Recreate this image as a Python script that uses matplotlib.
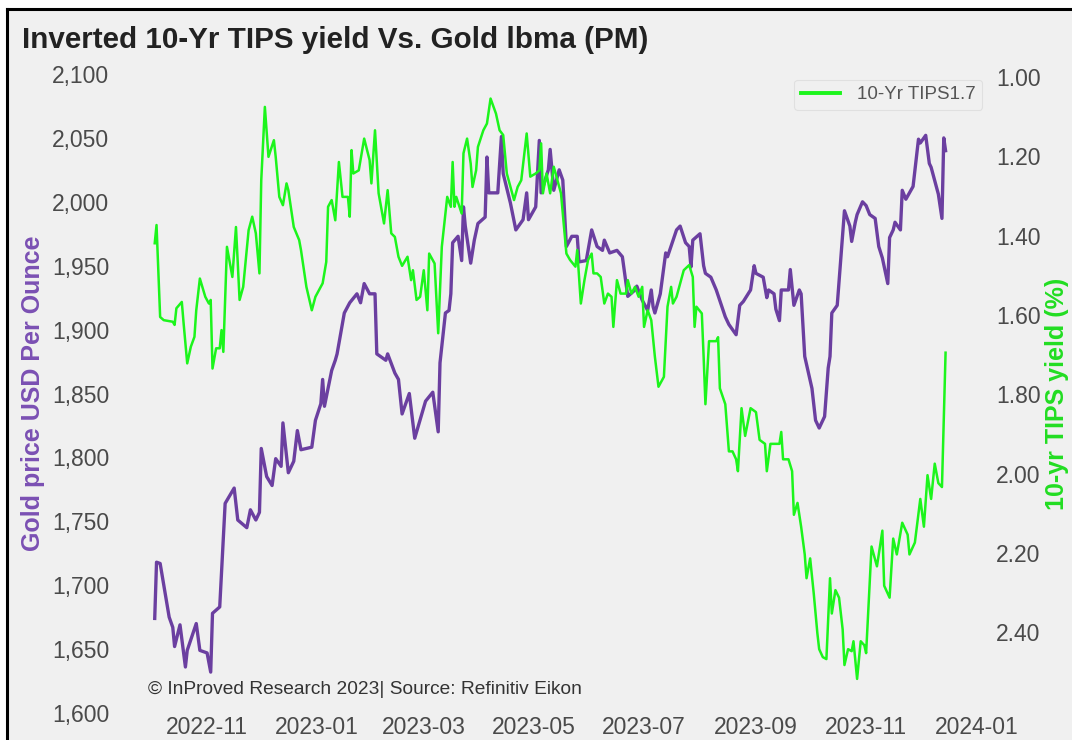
import matplotlib
matplotlib.use("Agg")
import matplotlib.pyplot as plt
import matplotlib.dates as mdates
import matplotlib.ticker as mticker
from matplotlib.patches import Rectangle
import pandas as pd

# ---------------- data ----------------
gold_dates = [
    "2022-10-03", "2022-10-04", "2022-10-06", "2022-10-11", "2022-10-13", "2022-10-14", "2022-10-17",
    "2022-10-20", "2022-10-21", "2022-10-26", "2022-10-28", "2022-11-01", "2022-11-03", "2022-11-04",
    "2022-11-08", "2022-11-11", "2022-11-16", "2022-11-18", "2022-11-23", "2022-11-25", "2022-11-28",
    "2022-11-30", "2022-12-01", "2022-12-04", "2022-12-07", "2022-12-09", "2022-12-12", "2022-12-13",
    "2022-12-16", "2022-12-19", "2022-12-21", "2022-12-23", "2022-12-29", "2022-12-31", "2023-01-03",
    "2023-01-04", "2023-01-05", "2023-01-09", "2023-01-11", "2023-01-12", "2023-01-16", "2023-01-19",
    "2023-01-23", "2023-01-25", "2023-01-27", "2023-01-30", "2023-02-02", "2023-02-03", "2023-02-08",
    "2023-02-09", "2023-02-13", "2023-02-15", "2023-02-17", "2023-02-21", "2023-02-24", "2023-03-02",
    "2023-03-06", "2023-03-09", "2023-03-10", "2023-03-13", "2023-03-15", "2023-03-16", "2023-03-17",
    "2023-03-20", "2023-03-22", "2023-03-23", "2023-03-24", "2023-03-27", "2023-03-29", "2023-03-31",
    "2023-04-04", "2023-04-05", "2023-04-06", "2023-04-11", "2023-04-13", "2023-04-14", "2023-04-18",
    "2023-04-21", "2023-04-25", "2023-04-27", "2023-04-28", "2023-05-02", "2023-05-04", "2023-05-05",
    "2023-05-09", "2023-05-10", "2023-05-12", "2023-05-15", "2023-05-17", "2023-05-19", "2023-05-22",
    "2023-05-25", "2023-05-26", "2023-05-30", "2023-06-02", "2023-06-05", "2023-06-08", "2023-06-09",
    "2023-06-12", "2023-06-16", "2023-06-19", "2023-06-22", "2023-06-26", "2023-06-27", "2023-06-30",
    "2023-07-03", "2023-07-05", "2023-07-06", "2023-07-07", "2023-07-10", "2023-07-13", "2023-07-14",
    "2023-07-19", "2023-07-21", "2023-07-24", "2023-07-26", "2023-07-27", "2023-07-28", "2023-08-01",
    "2023-08-03", "2023-08-04", "2023-08-07", "2023-08-10", "2023-08-15", "2023-08-17", "2023-08-21",
    "2023-08-23", "2023-08-25", "2023-08-29", "2023-08-31", "2023-09-01", "2023-09-05", "2023-09-07",
    "2023-09-08", "2023-09-11", "2023-09-12", "2023-09-14", "2023-09-15", "2023-09-19", "2023-09-20",
    "2023-09-22", "2023-09-25", "2023-09-26", "2023-09-28", "2023-10-02", "2023-10-04", "2023-10-06",
    "2023-10-09", "2023-10-11", "2023-10-12", "2023-10-13", "2023-10-16", "2023-10-18", "2023-10-20",
    "2023-10-23", "2023-10-24", "2023-10-26", "2023-10-27", "2023-10-30", "2023-11-01", "2023-11-03",
    "2023-11-06", "2023-11-08", "2023-11-10", "2023-11-13", "2023-11-14", "2023-11-16", "2023-11-17",
    "2023-11-20", "2023-11-21", "2023-11-23", "2023-11-27", "2023-11-30", "2023-12-01", "2023-12-04",
    "2023-12-06", "2023-12-07", "2023-12-11", "2023-12-13", "2023-12-14", "2023-12-15",
]
gold_price = [
    1674, 1718, 1717, 1675, 1667, 1652, 1669,
    1636, 1649, 1670, 1649, 1647, 1632, 1678,
    1683, 1764, 1776, 1751, 1745, 1759, 1751,
    1757, 1807, 1785, 1778, 1799, 1793, 1827,
    1788, 1797, 1821, 1806, 1808, 1829, 1842,
    1861, 1840, 1868, 1876, 1881, 1913, 1921,
    1928, 1921, 1936, 1928, 1928, 1881, 1876,
    1881, 1866, 1861, 1834, 1850, 1815, 1844,
    1851, 1820, 1874, 1913, 1915, 1928, 1968,
    1973, 1954, 1996, 1981, 1952, 1970, 1983,
    1988, 2035, 2007, 2007, 2051, 2022, 1999,
    1978, 1986, 2007, 1986, 1996, 2048, 2007,
    2025, 2041, 2009, 2025, 2017, 1965, 1973,
    1973, 1953, 1954, 1978, 1965, 1962, 1970,
    1960, 1962, 1957, 1926, 1931, 1934, 1923,
    1915, 1931, 1918, 1913, 1928, 1960, 1957,
    1978, 1981, 1968, 1965, 1949, 1970, 1975,
    1950, 1944, 1941, 1931, 1910, 1904, 1896,
    1919, 1922, 1931, 1950, 1944, 1941, 1925,
    1931, 1928, 1916, 1907, 1931, 1931, 1947,
    1919, 1931, 1928, 1879, 1854, 1829, 1823,
    1832, 1870, 1879, 1913, 1919, 1956, 1993,
    1981, 1969, 1984, 1990, 2000, 1997, 1990,
    1987, 1965, 1956, 1936, 1972, 1978, 1984,
    1978, 2009, 2002, 2012, 2049, 2046, 2052,
    2030, 2027, 2006, 1987, 2050, 2040,
]

tips_dates = [
    "2022-10-03", "2022-10-04", "2022-10-06", "2022-10-08", "2022-10-13", "2022-10-14", "2022-10-15",
    "2022-10-18", "2022-10-19", "2022-10-21", "2022-10-23", "2022-10-25", "2022-10-26", "2022-10-28",
    "2022-10-31", "2022-11-02", "2022-11-03", "2022-11-04", "2022-11-06", "2022-11-08", "2022-11-09",
    "2022-11-10", "2022-11-12", "2022-11-14", "2022-11-15", "2022-11-17", "2022-11-19", "2022-11-21",
    "2022-11-24", "2022-11-26", "2022-11-28", "2022-11-30", "2022-12-01", "2022-12-03", "2022-12-05",
    "2022-12-08", "2022-12-09", "2022-12-11", "2022-12-13", "2022-12-15", "2022-12-16", "2022-12-19",
    "2022-12-22", "2022-12-23", "2022-12-26", "2022-12-29", "2022-12-31", "2023-01-04", "2023-01-06",
    "2023-01-07", "2023-01-09", "2023-01-11", "2023-01-13", "2023-01-15", "2023-01-18", "2023-01-19",
    "2023-01-20", "2023-01-21", "2023-01-24", "2023-01-27", "2023-01-30", "2023-01-31", "2023-02-02",
    "2023-02-04", "2023-02-07", "2023-02-09", "2023-02-11", "2023-02-13", "2023-02-15", "2023-02-17",
    "2023-02-20", "2023-02-22", "2023-02-23", "2023-02-25", "2023-02-27", "2023-03-01", "2023-03-03",
    "2023-03-04", "2023-03-07", "2023-03-09", "2023-03-11", "2023-03-14", "2023-03-16", "2023-03-17",
    "2023-03-18", "2023-03-19", "2023-03-22", "2023-03-23", "2023-03-25", "2023-03-27", "2023-03-28",
    "2023-03-30", "2023-03-31", "2023-04-03", "2023-04-05", "2023-04-07", "2023-04-10", "2023-04-12",
    "2023-04-14", "2023-04-16", "2023-04-20", "2023-04-22", "2023-04-24", "2023-04-27", "2023-04-29",
    "2023-05-02", "2023-05-04", "2023-05-05", "2023-05-06", "2023-05-08", "2023-05-10", "2023-05-12",
    "2023-05-14", "2023-05-16", "2023-05-17", "2023-05-19", "2023-05-21", "2023-05-24", "2023-05-25",
    "2023-05-27", "2023-05-29", "2023-05-31", "2023-06-02", "2023-06-03", "2023-06-05", "2023-06-07",
    "2023-06-09", "2023-06-11", "2023-06-13", "2023-06-14", "2023-06-16", "2023-06-18", "2023-06-21",
    "2023-06-22", "2023-06-24", "2023-06-26", "2023-06-28", "2023-06-30", "2023-07-01", "2023-07-03",
    "2023-07-05", "2023-07-07", "2023-07-09", "2023-07-12", "2023-07-14", "2023-07-16", "2023-07-17",
    "2023-07-19", "2023-07-23", "2023-07-26", "2023-07-28", "2023-07-29", "2023-07-30", "2023-08-02",
    "2023-08-03", "2023-08-04", "2023-08-06", "2023-08-10", "2023-08-11", "2023-08-12", "2023-08-15",
    "2023-08-17", "2023-08-19", "2023-08-21", "2023-08-22", "2023-08-24", "2023-08-26", "2023-08-29",
    "2023-09-01", "2023-09-03", "2023-09-06", "2023-09-07", "2023-09-09", "2023-09-14", "2023-09-15",
    "2023-09-16", "2023-09-19", "2023-09-21", "2023-09-22", "2023-09-24", "2023-09-26", "2023-09-28",
    "2023-09-29", "2023-10-01", "2023-10-03", "2023-10-05", "2023-10-06", "2023-10-08", "2023-10-10",
    "2023-10-12", "2023-10-13", "2023-10-15", "2023-10-17", "2023-10-19", "2023-10-20", "2023-10-22",
    "2023-10-24", "2023-10-25", "2023-10-27", "2023-10-29", "2023-10-31", "2023-11-01", "2023-11-04",
    "2023-11-07", "2023-11-10", "2023-11-11", "2023-11-14", "2023-11-16", "2023-11-18", "2023-11-21",
    "2023-11-24", "2023-11-25", "2023-11-28", "2023-12-01", "2023-12-03", "2023-12-05", "2023-12-07",
    "2023-12-09", "2023-12-11", "2023-12-13", "2023-12-15",
]
tips_yield = [
    1.419, 1.373, 1.605, 1.613, 1.617, 1.625, 1.583,
    1.567, 1.621, 1.722, 1.680, 1.655, 1.588, 1.508,
    1.554, 1.571, 1.562, 1.735, 1.684, 1.684, 1.638,
    1.693, 1.428, 1.478, 1.504, 1.378, 1.562, 1.529,
    1.386, 1.352, 1.394, 1.495, 1.260, 1.075, 1.201,
    1.159, 1.201, 1.302, 1.323, 1.268, 1.285, 1.378,
    1.411, 1.436, 1.529, 1.588, 1.554, 1.520, 1.466,
    1.327, 1.310, 1.361, 1.214, 1.302, 1.302, 1.352,
    1.184, 1.243, 1.235, 1.155, 1.209, 1.268, 1.134,
    1.293, 1.369, 1.285, 1.394, 1.403, 1.453, 1.476,
    1.453, 1.512, 1.487, 1.562, 1.554, 1.487, 1.588,
    1.445, 1.470, 1.646, 1.428, 1.302, 1.327, 1.214,
    1.327, 1.302, 1.344, 1.192, 1.155, 1.218, 1.277,
    1.235, 1.176, 1.134, 1.117, 1.054, 1.092, 1.134,
    1.146, 1.243, 1.310, 1.277, 1.260, 1.142, 1.251,
    1.243, 1.235, 1.167, 1.293, 1.243, 1.293, 1.226,
    1.260, 1.293, 1.344, 1.445, 1.461, 1.478, 1.436,
    1.571, 1.512, 1.461, 1.445, 1.495, 1.495, 1.504,
    1.571, 1.546, 1.554, 1.630, 1.512, 1.546, 1.546,
    1.512, 1.546, 1.529, 1.554, 1.529, 1.630, 1.588,
    1.613, 1.705, 1.781, 1.756, 1.579, 1.529, 1.571,
    1.554, 1.487, 1.474, 1.504, 1.630, 1.579, 1.596,
    1.705, 1.825, 1.666, 1.666, 1.656, 1.785, 1.825,
    1.944, 1.944, 1.964, 1.994, 1.835, 1.905, 1.835,
    1.845, 1.915, 1.925, 1.994, 1.925, 1.925, 1.895,
    1.964, 1.964, 1.994, 2.104, 2.074, 2.134, 2.204,
    2.264, 2.214, 2.303, 2.403, 2.443, 2.463, 2.468,
    2.264, 2.353, 2.294, 2.313, 2.393, 2.483, 2.443,
    2.448, 2.423, 2.518, 2.423, 2.433, 2.453, 2.184,
    2.234, 2.144, 2.283, 2.313, 2.164, 2.204, 2.124,
    2.154, 2.204, 2.174, 2.064, 2.134, 2.004, 2.064,
    1.975, 2.024, 2.034, 1.695,
]

gold_ticks = [1600, 1650, 1700, 1750, 1800, 1850, 1900, 1950, 2000, 2050, 2100]
tips_ticks = [1.00, 1.20, 1.40, 1.60, 1.80, 2.00, 2.20, 2.40]
x_tick_dates = ["2022-11-01", "2023-01-01", "2023-03-01", "2023-05-01", "2023-07-01",
                "2023-09-01", "2023-11-01", "2024-01-01"]

title = "Inverted 10-Yr TIPS yield Vs. Gold lbma (PM)"
legend_label = "10-Yr TIPS1.7"
source_note = "\u00a9 InProved Research 2023| Source: Refinitiv Eikon"

# ---------------- style ----------------
plt.rcParams['font.family'] = ['Liberation Sans', 'DejaVu Sans']
BG = "#f0f0f0"
PURPLE = "#6b3fa0"
PURPLE_LBL = "#7b50b3"
GREEN = "#1cf51c"
GREEN_LBL = "#22dd22"
TICK = "#4a4a4a"

W, H = 1072, 740
fig = plt.figure(figsize=(W / 100, H / 100), dpi=100)
fig.patch.set_facecolor(BG)

# outer white margin and black frame (screenshot border)
fig.patches.append(Rectangle((0, 1 - 8 / H), 1, 8 / H, transform=fig.transFigure,
                             facecolor="white", edgecolor="none", zorder=0))
fig.patches.append(Rectangle((0, 0), 6 / W, 1, transform=fig.transFigure,
                             facecolor="white", edgecolor="none", zorder=0))
fig.add_artist(plt.Line2D([7 / W, 7 / W], [0, 1 - 9 / H], transform=fig.transFigure,
                          color="black", lw=2.2))
fig.add_artist(plt.Line2D([7 / W, 1], [1 - 9 / H, 1 - 9 / H], transform=fig.transFigure,
                          color="black", lw=2.2))

left, right = 115 / W, 988 / W
bottom, top = 1 - 713 / H, 1 - 74 / H
ax = fig.add_axes([left, bottom, right - left, top - bottom])
ax.set_facecolor(BG)
ax2 = ax.twinx()

gd = pd.to_datetime(gold_dates)
td = pd.to_datetime(tips_dates)

ax.plot(gd, gold_price, color=PURPLE, lw=2.4, solid_joinstyle="round")
ln, = ax2.plot(td, tips_yield, color=GREEN, lw=1.8, label=legend_label, solid_joinstyle="round")

ax.set_xlim(pd.Timestamp("2022-09-11"), pd.Timestamp("2024-01-07 12:00"))
ax.set_ylim(1600, 2100)
ax2.set_ylim(2.604, 0.992)

ax.set_yticks(gold_ticks)
ax.yaxis.set_major_formatter(mticker.FuncFormatter(lambda v, p: f"{int(v):,}"))
ax2.set_yticks(tips_ticks)
ax2.yaxis.set_major_formatter(mticker.FormatStrFormatter("%.2f"))
ax.set_xticks(pd.to_datetime(x_tick_dates))
ax.xaxis.set_major_formatter(mdates.DateFormatter("%Y-%m"))

for a in (ax, ax2):
    for s in a.spines.values():
        s.set_visible(False)
    a.tick_params(length=0, colors=TICK, labelsize=16.5)
ax.tick_params(axis="y", pad=4)
ax2.tick_params(axis="y", pad=6)
ax.tick_params(axis="x", pad=2, labelsize=16.5)

ax.set_ylabel("Gold price USD Per Ounce", color=PURPLE_LBL, fontsize=18,
              fontweight="bold", labelpad=5)
ax2.set_ylabel("10-yr TIPS yield (%)", color=GREEN_LBL, fontsize=18,
               fontweight="bold", labelpad=3)

leg = ax2.legend(handles=[ln], loc="upper right", bbox_to_anchor=(1.0, 1.0),
                 fontsize=13.5, frameon=True, fancybox=True, handlelength=2.1,
                 handletextpad=0.9, borderpad=0.35, borderaxespad=0.3,
                 labelcolor="#555555")
leg.get_frame().set_facecolor(BG)
leg.get_frame().set_edgecolor("#dcdcdc")
leg.get_frame().set_linewidth(0.8)
leg.get_lines()[0].set_linewidth(2.8)

fig.text(22 / W, 1 - 40 / H, title, fontsize=21.3, fontweight="bold", color="#222222",
         ha="left", va="center")
fig.text(148 / W, 1 - 690 / H, source_note, fontsize=13.8, color="#333333",
         ha="left", va="center")

fig.savefig("out.png", dpi=100, facecolor=fig.get_facecolor())
